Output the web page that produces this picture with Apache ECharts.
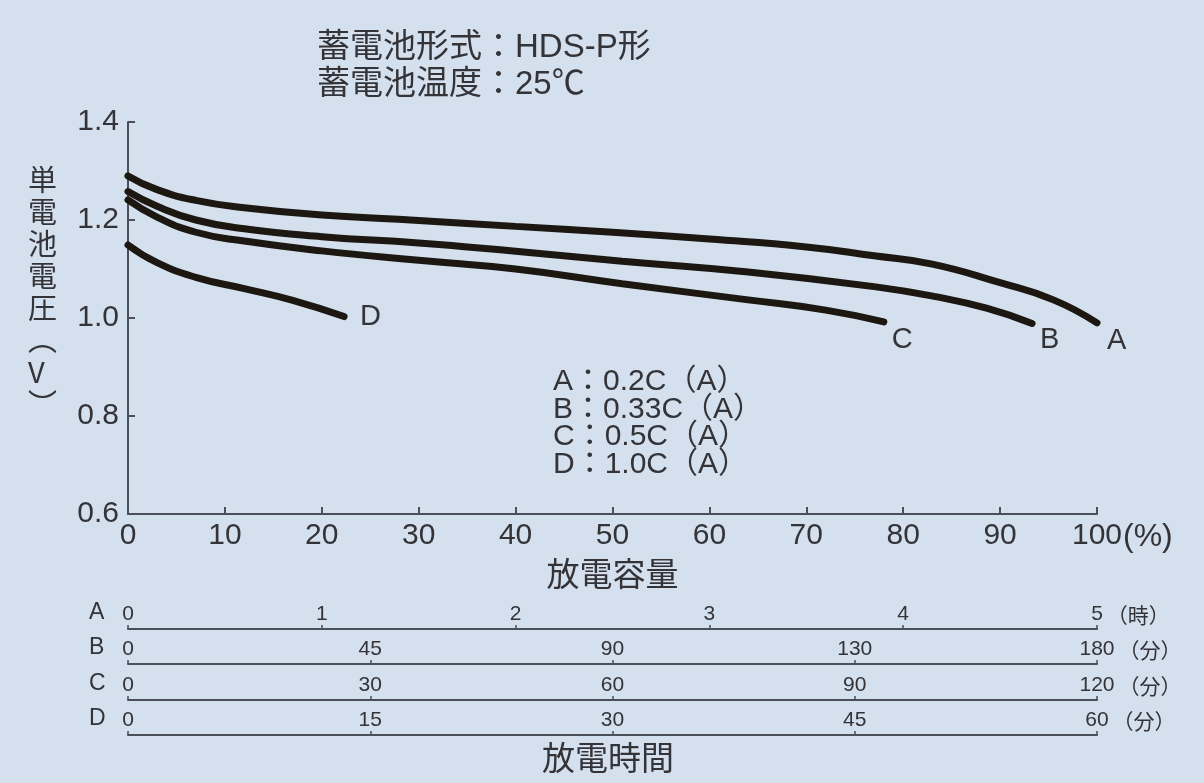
<!DOCTYPE html>
<html>
<head>
<meta charset="utf-8">
<style>
  html, body { margin: 0; padding: 0; background: #d4e0ed; }
  #chart { width: 1204px; height: 783px; }
</style>
<script src="https://cdn.jsdelivr.net/npm/echarts@6/dist/echarts.min.js"></script>
</head>
<body>
<div id="chart"></div>
<script>
// 放電容量(%) と 単電池電圧(V)
const capA = [0, 3, 7, 12, 20, 30, 40, 50, 60, 70, 77, 83, 90, 95.5, 100];
const voltA = [1.29, 1.262, 1.24, 1.225, 1.21, 1.199, 1.187, 1.175, 1.161, 1.145, 1.127, 1.11, 1.072, 1.037, 0.99];
const capB = [0, 3, 7, 12, 20, 30, 40, 51, 64, 77, 83.5, 88.6, 93.3];
const voltB = [1.258, 1.228, 1.2, 1.182, 1.166, 1.153, 1.136, 1.116, 1.094, 1.064, 1.043, 1.02, 0.989];
const capC = [0, 3, 7, 12, 20, 30, 40, 51, 64, 72, 78];
const voltC = [1.241, 1.206, 1.175, 1.157, 1.137, 1.118, 1.1, 1.07, 1.037, 1.016, 0.992];
const capD = [0, 3, 7, 12, 17, 22.3];
const voltD = [1.149, 1.113, 1.083, 1.06, 1.036, 1.003];

// 放電時間の目盛
const timeA = ['0', '1', '2', '3', '4', '5'];
const timeB = ['0', '45', '90', '130', '180'];
const timeC = ['0', '30', '60', '90', '120'];
const timeD = ['0', '15', '30', '45', '60'];
const timeUnits = ['（時）', '（分）', '（分）', '（分）'];
const rowNames = ['A', 'B', 'C', 'D'];

const notes = ['A：0.2C（A）', 'B：0.33C（A）', 'C：0.5C（A）', 'D：1.0C（A）'];

const font = '"Liberation Sans", "Noto Sans CJK JP", sans-serif';
const textColor = '#333338';
const axisColor = '#4a4f5a';
const curveColor = '#1d1712';

const zip = (xs, ys) => xs.map((x, i) => [x, ys[i]]);

const myChart = echarts.init(document.getElementById('chart'));

// 下の時間軸の位置
const rowLines = [628, 663, 699, 734];
const timeData = [timeA, timeB, timeC, timeD];

const grids = [{ left: 128, right: 107, top: 122, height: 392 }];
const xAxes = [{
    type: 'value',
    gridIndex: 0,
    min: 0,
    max: 100,
    interval: 10,
    name: '放電容量',
    nameLocation: 'middle',
    nameGap: 46,
    nameTextStyle: { fontSize: 33, color: textColor, fontFamily: font },
    axisLine: { lineStyle: { color: axisColor, width: 2 } },
    axisTick: { inside: true, length: 7, lineStyle: { color: axisColor, width: 2 } },
    axisLabel: { fontSize: 30, color: textColor, margin: 7, fontFamily: font },
    splitLine: { show: false }
}];
const yAxes = [{
    type: 'value',
    gridIndex: 0,
    min: 0.6,
    max: 1.4,
    interval: 0.2,
    axisLine: { show: true, lineStyle: { color: axisColor, width: 2 } },
    axisTick: { show: true, inside: true, length: 7, lineStyle: { color: axisColor, width: 2 } },
    axisLabel: { fontSize: 30, color: textColor, margin: 9, fontFamily: font,
        formatter: v => v.toFixed(1) },
    splitLine: { show: false }
}];

rowLines.forEach((y, i) => {
    grids.push({ left: 128, right: 107, top: y, height: 1 });
    xAxes.push({
        type: 'category',
        gridIndex: i + 1,
        position: 'top',
        boundaryGap: false,
        data: timeData[i],
        name: timeUnits[i],
        nameLocation: 'end',
        nameGap: 6,
        nameTextStyle: { fontSize: 21, color: textColor, fontFamily: font,
            align: 'left', verticalAlign: 'bottom', padding: [0, 0, 1, 0] },
        axisLine: { lineStyle: { color: axisColor, width: 2 } },
        axisTick: { show: true, length: 4, alignWithLabel: true, lineStyle: { color: axisColor, width: 1.5 } },
        axisLabel: { interval: 0, fontSize: 21, color: textColor, margin: 3, fontFamily: font }
    });
    yAxes.push({ type: 'value', gridIndex: i + 1, show: false });
});

const curve = (name, xs, ys, offset) => ({
    name: name,
    type: 'line',
    xAxisIndex: 0,
    yAxisIndex: 0,
    smooth: 0.5,
    showSymbol: false,
    data: zip(xs, ys),
    lineStyle: { color: curveColor, width: 7, cap: 'round' },
    endLabel: {
        show: true,
        formatter: '{a}',
        offset: offset,
        fontSize: 29,
        color: textColor,
        fontFamily: font
    }
});

const graphics = [
    {
        type: 'text', left: 28, top: 164,
        style: { text: '単\n電\n池\n電\n圧\n︵\nV\n︶', lineHeight: 32,
            fill: textColor, font: '29px "Noto Sans CJK JP"', align: 'center' }
    },
    {
        type: 'text', left: 1123, top: 521,
        style: { text: '(%)', fontSize: 32, fill: textColor, fontFamily: font }
    },
    {
        type: 'text', left: 553, top: 367,
        style: { text: notes.join('\n'), fontSize: 30, lineHeight: 27.5,
            fill: textColor, fontFamily: font }
    },
    {
        type: 'text', left: 542, top: 744,
        style: { text: '放電時間', fontSize: 33, fill: textColor, fontFamily: font }
    }
];
rowNames.forEach((n, i) => {
    graphics.push({
        type: 'text', left: 89, top: rowLines[i] - 27,
        style: { text: n, fontSize: 23, fill: textColor, fontFamily: font }
    });
});

const option = {
    backgroundColor: '#d4e0ed',
    animation: false,
    title: {
        text: '蓄電池形式：HDS-P形\n蓄電池温度：25℃',
        left: 312,
        top: 24,
        textStyle: { fontSize: 33, lineHeight: 37, fontWeight: 'normal', color: textColor, fontFamily: font }
    },
    grid: grids,
    xAxis: xAxes,
    yAxis: yAxes,
    graphic: graphics,
    series: [
        curve('A', capA, voltA, [2, 18]),
        curve('B', capB, voltB, [0, 17]),
        curve('C', capC, voltC, [0, 18]),
        curve('D', capD, voltD, [8, 0])
    ]
};

myChart.setOption(option);
window.addEventListener('resize', () => {
    myChart.resize();
});
</script>
</body>
</html>
